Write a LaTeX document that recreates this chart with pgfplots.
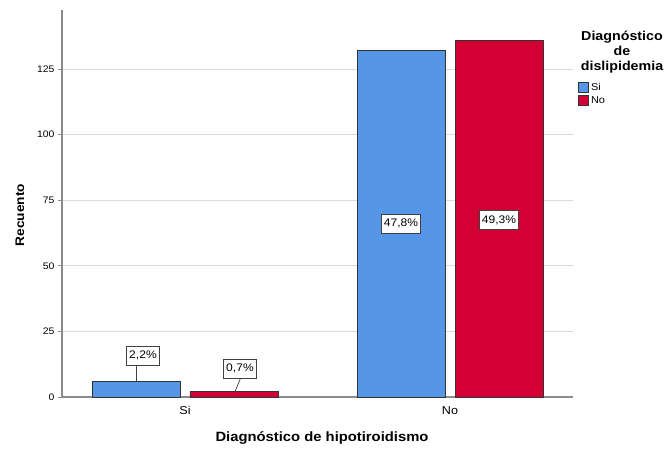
\documentclass[border=0pt]{standalone}
\usepackage{pgfplots}
\pgfplotsset{compat=1.18}
\usepackage{fontspec}
\setmainfont{Liberation Sans}[FakeStretch=1.1]
\definecolor{barblue}{RGB}{85,150,230}
\definecolor{barred}{RGB}{211,0,54}
\definecolor{axisgray}{RGB}{140,140,140}
\definecolor{gridgray}{RGB}{218,218,218}
\tikzset{pct/.style={draw=black!75, fill=white, line width=0.6bp, inner xsep=2.5bp,
  inner ysep=1bp, minimum height=19bp, font=\fontsize{11}{12}\selectfont}}
\begin{document}
\begin{tikzpicture}[x=1bp,y=1bp]
\path[use as bounding box] (0,0) rectangle (666,450);
\begin{axis}[
  at={(62bp,53bp)}, anchor=south west,
  scale only axis, width=511bp, height=387bp,
  xmin=-0.464, xmax=1.464, ymin=0, ymax=147.5,
  axis x line*=bottom, axis y line*=left,
  axis line style={axisgray, line width=1.2bp, -},
  xtick={0,1}, xticklabels={Si,No},
  x tick style={draw=none},
  xticklabel style={font=\fontsize{11.5}{13}\selectfont, yshift=-2bp},
  ytick={0,25,50,75,100,125},
  y tick style={axisgray, line width=0.8bp},
  tick align=outside, major tick length=4bp,
  yticklabel style={font=\fontsize{9.5}{10}\selectfont},
  /pgf/number format/assume math mode=true,
  ymajorgrids, grid style={gridgray, line width=0.8bp},
  legend style={at={(1.0098,0.8165)}, anchor=north west, draw=none, fill=none,
    font=\fontsize{10}{12}\selectfont, row sep=1bp, inner sep=0pt},
  legend cell align=left,
  legend image code/.code={\draw[#1] (0bp,-4.5bp) rectangle (10bp,5.5bp);},
  clip=false,
]
\addplot[ybar, bar width=88bp, bar shift=-49bp, fill=barblue, draw=black!80, line width=0.8bp]
  coordinates {(0,6) (1,132)};
\addlegendentry{Si}
\addplot[ybar, bar width=88bp, bar shift=49bp, fill=barred, draw=black!80, line width=0.8bp]
  coordinates {(0,2) (1,136)};
\addlegendentry{No}

% percentage labels (share of 276 cases)
\draw[black!75, line width=0.7bp] ([xshift=-49bp]axis cs:0,6) -- ([xshift=-49bp]axis cs:0,12.3);
\node[pct] at ([xshift=-42bp]axis cs:0,15.8) {2,2\%};
\draw[black!75, line width=0.7bp] ([xshift=50bp]axis cs:0,2) -- ([xshift=56bp]axis cs:0,7.6);
\node[pct] at ([xshift=55bp]axis cs:0,10.8) {0,7\%};
\node[pct] at ([xshift=-49bp]axis cs:1,66) {47,8\%};
\node[pct] at ([xshift=49bp]axis cs:1,67.5) {49,3\%};
\end{axis}

\node[rotate=90, font=\bfseries\fontsize{12.5}{14}\selectfont] at (20,235) {Recuento};
\node[font=\bfseries\fontsize{13.5}{15}\selectfont] at (322,12) {Diagnóstico de hipotiroidismo};
\node[font=\bfseries\fontsize{13}{15}\selectfont, align=center] at (622,398)
  {Diagnóstico\\de\\dislipidemia};
\end{tikzpicture}
\end{document}
